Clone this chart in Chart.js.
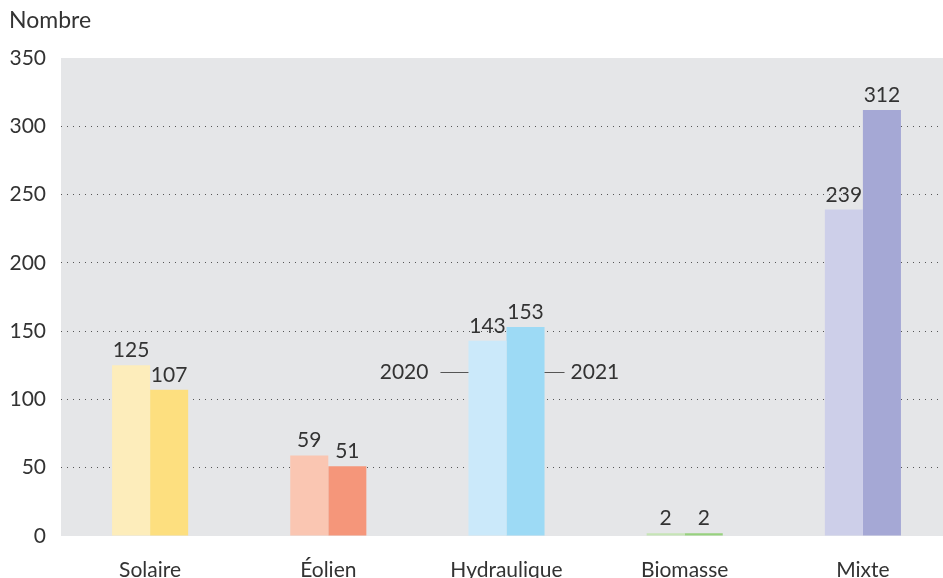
<!DOCTYPE html>
<html>
<head>
   <meta charset="utf-8">
   <script src="https://cdn.jsdelivr.net/npm/chart.js@4/dist/chart.umd.min.js"></script>
   <title>Nombre par filière</title>
   <style>
      html, body { margin: 0; padding: 0; overflow: hidden; background: #fff; }
      #wrap { width: 952px; height: 578px; }
   </style>
</head>
<body>
   <div id="wrap">
      <canvas id="bar-chart"></canvas>
   </div>
<script>
   // data
   const categories = ["Solaire", "Éolien", "Hydraulique", "Biomasse", "Mixte"];
   const values2020 = [125, 59, 143, 2, 239];
   const values2021 = [107, 51, 153, 2, 312];
   const colors2020 = ["#fdedbb", "#fac6b2", "#cbe9fa", "#c6e4b6", "#cdcfe9"];
   const colors2021 = ["#fddf7f", "#f5967a", "#9ddaf5", "#97d17e", "#a5a8d5"];
   const yTicks = [0, 50, 100, 150, 200, 250, 300, 350];

   const FONT = "Lato";
   const TXT = "#333333";

   // grey plot background + texts drawn on top
   const extras = {
      id: 'extras',
      beforeDraw(chart) {
         const a = chart.chartArea, ctx = chart.ctx;
         ctx.save();
         ctx.fillStyle = "#e5e6e8";
         ctx.fillRect(a.left, a.top, a.right - a.left, a.bottom - a.top);
         ctx.restore();
      },
      afterDatasetsDraw(chart) {
         const ctx = chart.ctx;
         const y = chart.scales.y;
         ctx.save();
         ctx.fillStyle = TXT;
         // title
         ctx.font = "23px " + FONT;
         ctx.textAlign = "left";
         ctx.textBaseline = "middle";
         ctx.fillText("Nombre", 9, 21);
         // value labels
         ctx.font = "21px " + FONT;
         ctx.textAlign = "center";
         ctx.textBaseline = "alphabetic";
         chart.data.datasets.forEach((ds, i) => {
            chart.getDatasetMeta(i).data.forEach((bar, j) => {
               ctx.fillText(String(ds.data[j]), bar.x, bar.y - 8);
            });
         });
         // 2020 / 2021 keys next to Hydraulique
         const b0 = chart.getDatasetMeta(0).data[2];
         const b1 = chart.getDatasetMeta(1).data[2];
         const ky = Math.round(y.getPixelForValue(120)) + 0.5;
         const l = b0.x - b0.width / 2, r = b1.x + b1.width / 2;
         ctx.strokeStyle = "#555";
         ctx.lineWidth = 1;
         ctx.beginPath();
         ctx.moveTo(l - 28, ky); ctx.lineTo(l, ky);
         ctx.moveTo(r, ky); ctx.lineTo(r + 20, ky);
         ctx.stroke();
         ctx.textBaseline = "middle";
         ctx.textAlign = "right";
         ctx.fillText("2020", l - 40, ky);
         ctx.textAlign = "left";
         ctx.fillText("2021", r + 26, ky);
         ctx.restore();
      }
   };

   new Chart(document.getElementById("bar-chart"), {
      type: 'bar',
      data: {
         labels: categories,
         datasets: [
            { label: "2020", data: values2020, backgroundColor: colors2020 },
            { label: "2021", data: values2021, backgroundColor: colors2021 }
         ]
      },
      options: {
         responsive: true,
         maintainAspectRatio: false,
         animation: false,
         barPercentage: 1,
         categoryPercentage: 0.427,
         layout: { padding: { top: 58, left: 0, right: 0, bottom: 0 } },
         plugins: {
            legend: { display: false },
            title: { display: false },
            tooltip: { enabled: false }
         },
         scales: {
            x: {
               grid: { display: false },
               border: { display: false },
               ticks: { color: TXT, font: { family: FONT, size: 21 }, padding: 14, maxRotation: 0 },
               afterFit(s) { s.height = 42; }
            },
            y: {
               min: 0, max: 350,
               afterBuildTicks(s) { s.ticks = yTicks.map(v => ({ value: v })); },
               grid: {
                  drawTicks: false,
                  color: ctx => (ctx.tick && (ctx.tick.value === 0 || ctx.tick.value === 350)) ? "transparent" : "#555",
                  lineWidth: 1
               },
               border: { display: false, dash: [1, 5] },
               ticks: { color: TXT, font: { family: FONT, size: 21 }, padding: 15 },
               afterFit(s) { s.width = 61; }
            }
         }
      },
      plugins: [extras]
   });
</script>
</body>
</html>
